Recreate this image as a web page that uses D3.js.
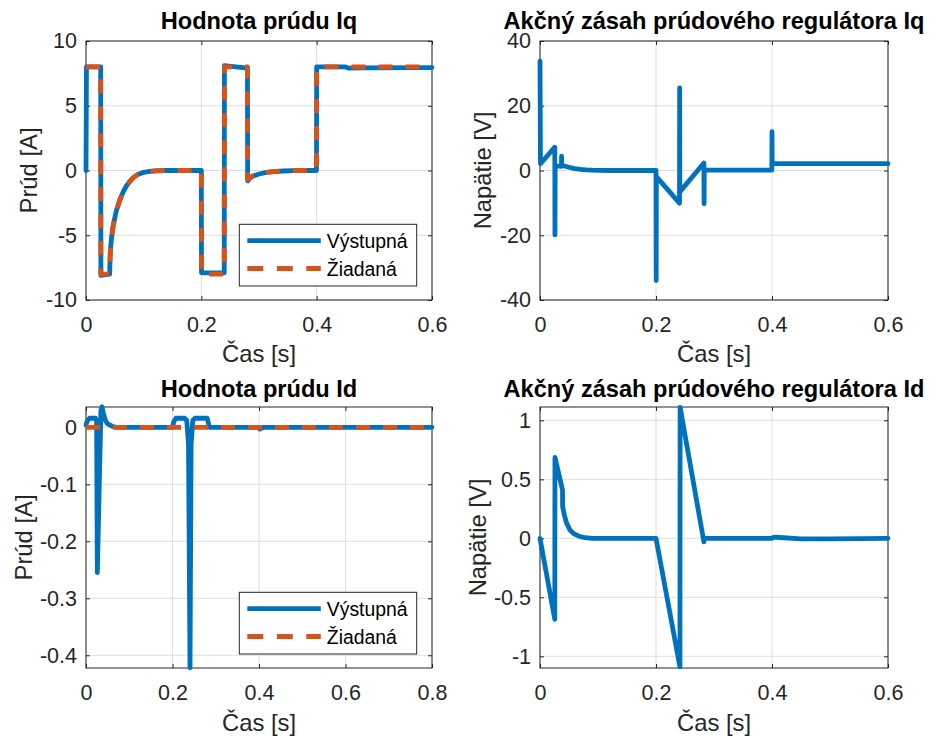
<!DOCTYPE html>
<html><head><meta charset="utf-8">
<script src="https://cdn.jsdelivr.net/npm/d3@7"></script>
<style>
body{margin:0;background:#fff}
text{font-family:"Liberation Sans",Arial,Helvetica,sans-serif}
</style>
</head><body>
<svg id="chart" width="934" height="740"></svg>
<script>
// ---------- DATA ----------
const seriesNames = ["Výstupná", "Žiadaná"];

// Iq current [A] : [time s, value]
const iqOut = [[0,0],[0.0008,8],[0.0255,8],[0.0258,-8.1],[0.041,-8.0],[0.042,-6.4],[0.044,-5.3],[0.047,-4.3],[0.052,-3.2],[0.058,-2.35],[0.065,-1.6],[0.070,-1.2],[0.075,-0.9],[0.082,-0.55],[0.090,-0.3],[0.100,-0.14],[0.110,-0.07],[0.120,-0.03],[0.135,0],[0.2,0],[0.2003,-7.9],[0.2397,-7.9],[0.24,8.1],[0.28,7.9],[0.2803,-0.8],[0.284,-0.6],[0.290,-0.42],[0.300,-0.27],[0.313,-0.15],[0.325,-0.08],[0.342,-0.04],[0.360,-0.01],[0.380,0],[0.3997,0],[0.4,8.0],[0.45,8.0],[0.456,7.9],[0.48,7.92],[0.6,7.95]];
const iqRef = [[0,8],[0.0255,8],[0.0258,-8],[0.041,-8.0],[0.042,-6.4],[0.044,-5.3],[0.047,-4.3],[0.052,-3.2],[0.058,-2.35],[0.065,-1.6],[0.070,-1.2],[0.075,-0.9],[0.082,-0.55],[0.090,-0.3],[0.100,-0.14],[0.110,-0.07],[0.120,-0.03],[0.135,0],[0.2,0],[0.2003,-8],[0.2397,-8],[0.24,8],[0.28,8],[0.2803,-0.7],[0.284,-0.55],[0.290,-0.4],[0.300,-0.26],[0.313,-0.15],[0.325,-0.08],[0.342,-0.04],[0.360,-0.01],[0.380,0],[0.3997,0],[0.4,8],[0.6,8]];

// Vq voltage [V]
const vqOut = [[0,33.8],[0.0008,2.1],[0.0255,7.2],[0.0258,-19.9],[0.0262,1.4],[0.037,1.3],[0.0372,4.4],[0.0375,1.6],[0.042,1.4],[0.05,1.0],[0.06,0.6],[0.07,0.35],[0.08,0.2],[0.09,0.1],[0.1,0.05],[0.12,0],[0.2,0],[0.2003,-34],[0.2006,-1.9],[0.2405,-10.1],[0.2408,25.5],[0.2411,-6.6],[0.2826,2.3],[0.2829,-10.3],[0.2832,0.2],[0.3,0.1],[0.3997,0.1],[0.4,12],[0.4003,2.1],[0.6,2.1]];

// Id current [A]
const idOut = [[0,0.004],[0.003,0.011],[0.008,0.016],[0.022,0.016],[0.0245,0.012],[0.0262,-0.255],[0.0345,0.03],[0.037,0.036],[0.040,0.025],[0.045,0.012],[0.050,0.006],[0.060,0.002],[0.070,0],[0.2,0],[0.203,0.01],[0.208,0.016],[0.228,0.016],[0.233,0.012],[0.237,-0.03],[0.2405,-0.422],[0.243,-0.03],[0.247,0.012],[0.252,0.016],[0.28,0.016],[0.2835,0.006],[0.285,0],[0.4,0],[0.402,-0.003],[0.41,0],[0.8,0]];
const idRef = [[0,0],[0.8,0]];

// Vd voltage [V]
const vdOut = [[0,0],[0.0255,-0.686],[0.0258,0.686],[0.0388,0.41],[0.039,0.27],[0.042,0.197],[0.046,0.127],[0.0517,0.07],[0.0575,0.042],[0.066,0.02],[0.0747,0.008],[0.09,0],[0.2,0],[0.2413,-1.09],[0.2416,1.11],[0.2826,-0.03],[0.2835,0],[0.4,0],[0.403,0.01],[0.42,0.005],[0.45,-0.005],[0.5,-0.004],[0.55,-0.002],[0.6,0]];

// ticks
const xTicks6 = [0,0.2,0.4,0.6];
const xTicks8 = [0,0.2,0.4,0.6,0.8];
const iqYTicks = [-10,-5,0,5,10];
const vqYTicks = [-40,-20,0,20,40];
const idYTicks = [-0.4,-0.3,-0.2,-0.1,0];
const vdYTicks = [-1,-0.5,0,0.5,1];

const titles = ["Hodnota prúdu Iq","Akčný zásah prúdového regulátora Iq","Hodnota prúdu Id","Akčný zásah prúdového regulátora Id"];
const xLabel = "Čas [s]";
const yLabels = ["Prúd [A]","Napätie [V]","Prúd [A]","Napätie [V]"];

// ---------- STYLE / LAYOUT ----------
const BLUE = "#0072BD", ORANGE = "#D95319", AX = "#262626", GRID = "#dfdfdf";
const LW = 4.8, DASH = "14,13";
const svg = d3.select("#chart");

const panels = [
  {b:[86,41,432,300], xd:[0,0.6], yd:[-10,10], xt:xTicks6, yt:iqYTicks, title:titles[0], yl:yLabels[0], ylx:36.7, tb:28.5, xlb:362,
   series:[{d:iqOut,c:BLUE},{d:iqRef,c:ORANGE,dash:true}], legend:[239.3,224.3]},
  {b:[540,41,888,300], xd:[0,0.6], yd:[-40,40], xt:xTicks6, yt:vqYTicks, title:titles[1], yl:yLabels[1], ylx:490.7, tb:28.5, xlb:362,
   series:[{d:vqOut,c:BLUE}]},
  {b:[86,407,432,668], xd:[0,0.8], yd:[-0.4223,0.0357], xt:xTicks8, yt:idYTicks, title:titles[2], yl:yLabels[2], ylx:31.7, tb:397, xlb:731,
   series:[{d:idOut,c:BLUE},{d:idRef,c:ORANGE,dash:true}], legend:[239.3,592.3]},
  {b:[540,407,888,668], xd:[0,0.6], yd:[-1.099,1.113], xt:xTicks6, yt:vdYTicks, title:titles[3], yl:yLabels[3], ylx:485.7, tb:397, xlb:731,
   series:[{d:vdOut,c:BLUE}]}
];

const fmt = d => String(d);

panels.forEach(p => {
  const [x0,y0,x1,y1] = p.b;
  const x = d3.scaleLinear().domain(p.xd).range([x0,x1]);
  const y = d3.scaleLinear().domain(p.yd).range([y1,y0]);
  const g = svg.append("g");

  g.append("rect").attr("x",x0).attr("y",y0).attr("width",x1-x0).attr("height",y1-y0).attr("fill","#fff");

  // grid
  g.append("g").selectAll("line").data(p.xt).join("line")
    .attr("x1",d=>x(d)).attr("x2",d=>x(d)).attr("y1",y0).attr("y2",y1)
    .attr("stroke",GRID).attr("stroke-width",1);
  g.append("g").selectAll("line").data(p.yt).join("line")
    .attr("x1",x0).attr("x2",x1).attr("y1",d=>y(d)).attr("y2",d=>y(d))
    .attr("stroke",GRID).attr("stroke-width",1);

  // axes (ticks inside)
  const styleAxis = sel => {
    sel.select(".domain").remove();
    sel.selectAll(".tick line").attr("stroke",AX).attr("stroke-width",1);
    sel.selectAll(".tick text").attr("fill",AX).style("font-size","21.5px");
  };
  g.append("g").attr("transform",`translate(0,${y1})`)
    .call(d3.axisBottom(x).tickValues(p.xt).tickFormat(fmt).tickSize(-4).tickPadding(17)).call(styleAxis)
    .attr("font-family",null).attr("font-size",null);
  g.append("g").attr("transform",`translate(0,${y0})`)
    .call(d3.axisTop(x).tickValues(p.xt).tickFormat("").tickSize(-4)).call(styleAxis);
  g.append("g").attr("transform",`translate(${x0},0)`)
    .call(d3.axisLeft(y).tickValues(p.yt).tickFormat(fmt).tickSize(-4).tickPadding(9)).call(styleAxis)
    .attr("font-family",null).attr("font-size",null);
  g.append("g").attr("transform",`translate(${x1},0)`)
    .call(d3.axisRight(y).tickValues(p.yt).tickFormat("").tickSize(-4)).call(styleAxis);

  g.append("rect").attr("x",x0).attr("y",y0).attr("width",x1-x0).attr("height",y1-y0)
    .attr("fill","none").attr("stroke",AX).attr("stroke-width",1);

  // data lines
  const line = d3.line().x(d=>x(d[0])).y(d=>y(d[1]));
  p.series.forEach(s => {
    g.append("path").attr("d",line(s.d)).attr("fill","none")
      .attr("stroke",s.c).attr("stroke-width",LW)
      .attr("stroke-linejoin","round").attr("stroke-linecap",s.dash?"butt":"round")
      .attr("stroke-dasharray",s.dash?DASH:null);
  });

  // texts
  g.append("text").attr("x",(x0+x1)/2).attr("y",p.tb).attr("text-anchor","middle")
    .style("font-size","23.6px").style("font-weight","bold").attr("fill","#000").text(p.title);
  g.append("text").attr("x",(x0+x1)/2).attr("y",p.xlb).attr("text-anchor","middle")
    .style("font-size","23.8px").attr("fill",AX).text(xLabel);
  g.append("text").attr("transform",`translate(${p.ylx},${(y0+y1)/2}) rotate(-90)`).attr("text-anchor","middle")
    .style("font-size","23.8px").attr("fill",AX).text(p.yl);

  // legend
  if (p.legend) {
    const [lx,ly] = p.legend;
    const lg = g.append("g");
    lg.append("rect").attr("x",lx).attr("y",ly).attr("width",177.4).attr("height",61.7)
      .attr("fill","#fff").attr("stroke",AX).attr("stroke-width",1);
    const rows = [{n:seriesNames[0],c:BLUE,dash:false,dy:16.4},{n:seriesNames[1],c:ORANGE,dash:true,dy:44.2}];
    rows.forEach(r => {
      lg.append("line").attr("x1",lx+8).attr("x2",lx+81.5).attr("y1",ly+r.dy).attr("y2",ly+r.dy)
        .attr("stroke",r.c).attr("stroke-width",LW).attr("stroke-dasharray",r.dash?"16,13.5":null);
      lg.append("text").attr("x",lx+87.5).attr("y",ly+r.dy+7).style("font-size","19.4px")
        .attr("fill","#000").text(r.n);
    });
  }
});
</script>
</body></html>
